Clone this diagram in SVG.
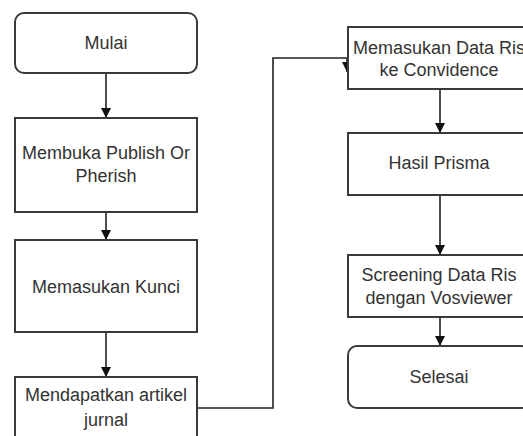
<svg xmlns="http://www.w3.org/2000/svg" width="523" height="436" viewBox="0 0 523 436">
<defs>
<marker id="ah" viewBox="0 0 10 10" refX="10" refY="5" markerWidth="10" markerHeight="10" markerUnits="userSpaceOnUse" orient="auto">
<path d="M0,0 L10,5 L0,10 z" fill="#111"/>
</marker>
<style>
.box{fill:#fff;stroke:#3a3a3a;stroke-width:2}
.t{font-family:"Liberation Sans",Arial,sans-serif;font-size:18px;fill:#333;text-anchor:middle}
.c{fill:none;stroke:#222;stroke-width:1.6;marker-end:url(#ah)}
</style>
</defs>
<rect width="523" height="436" fill="#fff"/>
<g id="connectors">
<path class="c" d="M106,73 V118"/>
<path class="c" d="M106,212 V240"/>
<path class="c" d="M106,332 V377"/>
<path class="c" d="M197,408 H273 V58 H347 V72"/>
<path class="c" d="M440,89 V133"/>
<path class="c" d="M440,195 V255"/>
<path class="c" d="M440,317 V346"/>
</g>
<g id="mulai"><rect class="box" x="15" y="13" width="182" height="60" rx="9"/><text class="t" x="106" y="49">Mulai</text></g>
<g id="membuka"><rect class="box" x="15" y="118" width="182" height="94"/><text class="t" x="106" y="159">Membuka Publish Or</text><text class="t" x="106" y="182">Pherish</text></g>
<g id="kunci"><rect class="box" x="15" y="240" width="182" height="92"/><text class="t" x="106" y="293">Memasukan Kunci</text></g>
<g id="mendapatkan"><rect class="box" x="15" y="377" width="182" height="80"/><text class="t" x="106" y="401">Mendapatkan artikel</text><text class="t" x="106" y="426">jurnal</text></g>
<g id="datarris"><rect class="box" x="348" y="27" width="182" height="62"/><text class="t" x="439" y="54">Memasukan Data Ris</text><text class="t" x="439" y="76">ke Convidence</text></g>
<g id="prisma"><rect class="box" x="348" y="133" width="182" height="62"/><text class="t" x="439" y="169">Hasil Prisma</text></g>
<g id="screening"><rect class="box" x="348" y="255" width="182" height="62"/><text class="t" x="439" y="281">Screening Data Ris</text><text class="t" x="439" y="304">dengan Vosviewer</text></g>
<g id="selesai"><rect class="box" x="348" y="346" width="182" height="62" rx="9"/><text class="t" x="439" y="383">Selesai</text></g>
</svg>
